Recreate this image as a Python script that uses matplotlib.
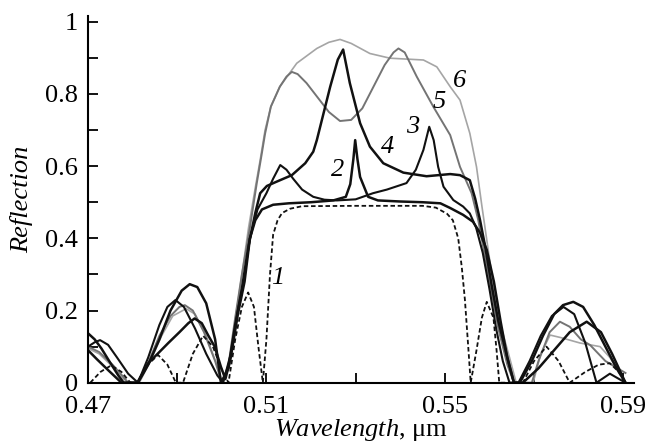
import matplotlib.pyplot as plt

plt.rcParams['font.family'] = ['Liberation Serif', 'DejaVu Serif']
plt.rcParams['mathtext.fontset'] = 'custom'
plt.rcParams['mathtext.rm'] = 'Liberation Serif'
plt.rcParams['mathtext.it'] = 'Liberation Serif:italic'

# curve 1 (dashed)
wl1 = [0.4705, 0.4728, 0.4752, 0.4775, 0.4795, 0.481, 0.483, 0.4857, 0.4878, 0.4897,
       0.4913, 0.4935, 0.4958, 0.498, 0.5, 0.5015, 0.503, 0.5045, 0.5059, 0.5072,
       0.5082, 0.5092, 0.51, 0.5108, 0.5115, 0.5125, 0.5135, 0.5153, 0.518, 0.53,
       0.545, 0.548, 0.5505, 0.5518, 0.553, 0.5538, 0.5545, 0.5553, 0.5558, 0.5571,
       0.5583, 0.5594, 0.5609, 0.5616, 0.5622, 0.5675, 0.57, 0.5728, 0.5755, 0.578,
       0.5815, 0.5845, 0.587, 0.589, 0.5905]
r1 = [0.0, 0.03, 0.048, 0.03, 0.0, 0.0, 0.045, 0.077, 0.05, 0.0,
      0.0, 0.08, 0.13, 0.1, 0.035, 0.0, 0.12, 0.21, 0.25, 0.21,
      0.1, 0.0, 0.12, 0.3, 0.41, 0.45, 0.47, 0.482, 0.489, 0.49,
      0.49, 0.485, 0.468, 0.45, 0.40, 0.32, 0.23, 0.09, 0.0, 0.09,
      0.18, 0.224, 0.18, 0.09, 0.0, 0.0, 0.06, 0.10, 0.06, 0.0,
      0.03, 0.05, 0.054, 0.03, 0.0]

# curve 2
wl2 = [0.47, 0.472, 0.4745, 0.4775, 0.481, 0.4825, 0.4835, 0.486, 0.488, 0.4905,
       0.4925, 0.4939, 0.4955, 0.497, 0.4984, 0.4998, 0.5008, 0.502, 0.5036, 0.5051,
       0.5063, 0.5075, 0.509, 0.5115, 0.515, 0.52, 0.525, 0.5278, 0.5288, 0.5295,
       0.5299, 0.5304, 0.531, 0.5328, 0.535, 0.54, 0.545, 0.549, 0.5512, 0.5541,
       0.5563, 0.5579, 0.5594, 0.561, 0.5625, 0.564, 0.5655, 0.5675, 0.571, 0.5745,
       0.578, 0.5818, 0.585, 0.5875, 0.5905]
r2 = [0.09, 0.065, 0.035, 0.0, 0.0, 0.03, 0.054, 0.085, 0.11, 0.14,
      0.165, 0.178, 0.165, 0.13, 0.10, 0.044, 0.01, 0.07, 0.19, 0.28,
      0.40, 0.45, 0.48, 0.493, 0.497, 0.5, 0.505, 0.515, 0.55, 0.62,
      0.672, 0.62, 0.57, 0.515, 0.505, 0.502, 0.5, 0.497, 0.484, 0.465,
      0.446, 0.415, 0.368, 0.28, 0.17, 0.07, 0.0, 0.0, 0.04, 0.09,
      0.14, 0.169, 0.14, 0.08, 0.0]

# curve 3
wl3 = [0.47, 0.4715, 0.4727, 0.4745, 0.4765, 0.479, 0.4812, 0.4835, 0.486, 0.4878,
       0.4896, 0.4915, 0.494, 0.4965, 0.499, 0.5003, 0.502, 0.5036, 0.505, 0.5063,
       0.508, 0.51, 0.5115, 0.5131, 0.5145, 0.516, 0.518, 0.5205, 0.523, 0.5258,
       0.53, 0.5339, 0.537, 0.5414, 0.5435, 0.5452, 0.5465, 0.5475, 0.5485, 0.5497,
       0.5519, 0.5541, 0.5556, 0.557, 0.5585, 0.56, 0.5615, 0.563, 0.5645, 0.5665,
       0.569, 0.5715, 0.574, 0.5766, 0.579, 0.5815, 0.584, 0.587, 0.5905]
r3 = [0.10, 0.112, 0.118, 0.105, 0.07, 0.025, 0.0, 0.07, 0.16, 0.21,
      0.229, 0.21, 0.15, 0.08, 0.02, 0.0, 0.08, 0.2, 0.29, 0.40,
      0.48, 0.525, 0.565, 0.603, 0.59, 0.565, 0.535, 0.515, 0.507, 0.505,
      0.508, 0.525, 0.535, 0.553, 0.59, 0.645, 0.709, 0.672, 0.598, 0.543,
      0.506, 0.488, 0.469, 0.43, 0.36, 0.26, 0.15, 0.06, 0.0, 0.0,
      0.06, 0.13, 0.185, 0.21, 0.19, 0.11, 0.0, 0.025, 0.0]

# curve 4
wl4 = [0.47, 0.4715, 0.473, 0.475, 0.4768, 0.478, 0.4812, 0.4835, 0.486, 0.4885,
       0.491, 0.4928, 0.4945, 0.4965, 0.4985, 0.4998, 0.5015, 0.503, 0.5045, 0.506,
       0.5075, 0.5086, 0.5101, 0.5123, 0.5157, 0.5187, 0.5205, 0.5213, 0.5228, 0.5243,
       0.526, 0.5272, 0.5287, 0.531, 0.5332, 0.5362, 0.5407, 0.5459, 0.5512, 0.5534,
       0.5556, 0.5568, 0.5579, 0.559, 0.5605, 0.562, 0.5638, 0.5655, 0.5668, 0.5695,
       0.572, 0.5745, 0.5765, 0.5788, 0.581, 0.5835, 0.586, 0.5885, 0.5905]
r4 = [0.137, 0.12, 0.095, 0.055, 0.02, 0.0, 0.0, 0.05, 0.12, 0.2,
      0.255, 0.273, 0.265, 0.22, 0.12, 0.0, 0.04, 0.16, 0.26, 0.38,
      0.47, 0.525, 0.545, 0.557, 0.575, 0.608, 0.64, 0.672, 0.746, 0.82,
      0.895, 0.923, 0.83, 0.719, 0.654, 0.608, 0.582, 0.572, 0.578, 0.575,
      0.561, 0.51, 0.45, 0.38, 0.27, 0.17, 0.08, 0.0, 0.0, 0.06,
      0.13, 0.19, 0.215, 0.224, 0.21, 0.16, 0.1, 0.04, 0.0]

# curve 5 (grey)
wl5 = [0.47, 0.4725, 0.4755, 0.478, 0.479, 0.4812, 0.4835, 0.486, 0.4885, 0.4905,
       0.4917, 0.4935, 0.496, 0.4985, 0.5, 0.5015, 0.503, 0.5045, 0.5063, 0.5078,
       0.5089, 0.5097, 0.511, 0.513, 0.5145, 0.5157, 0.517, 0.519, 0.5215, 0.524,
       0.5265, 0.529, 0.5315, 0.534, 0.5365, 0.5385, 0.5396, 0.541, 0.5437, 0.5474,
       0.5512, 0.5534, 0.556, 0.5575, 0.559, 0.5605, 0.562, 0.564, 0.5655, 0.5695,
       0.571, 0.5735, 0.5758, 0.578, 0.5805, 0.5826, 0.586, 0.5905]
r5 = [0.10, 0.085, 0.05, 0.015, 0.0, 0.0, 0.055, 0.13, 0.185, 0.21,
      0.215, 0.2, 0.14, 0.06, 0.0, 0.05, 0.18, 0.3, 0.43, 0.55,
      0.63, 0.69, 0.765, 0.82, 0.848, 0.861, 0.855, 0.83, 0.79, 0.75,
      0.725, 0.728, 0.76, 0.82, 0.88, 0.915, 0.926, 0.915, 0.848, 0.765,
      0.686, 0.598, 0.525, 0.45, 0.35, 0.25, 0.15, 0.05, 0.0, 0.0,
      0.06, 0.14, 0.169, 0.155, 0.12, 0.104, 0.06, 0.027]

# curve 6 (light grey)
wl6 = [0.47, 0.4725, 0.4755, 0.478, 0.4792, 0.4815, 0.484, 0.4865, 0.489, 0.492,
       0.494, 0.4965, 0.499, 0.5002, 0.5015, 0.503, 0.5045, 0.506, 0.5075, 0.5086,
       0.5097, 0.511, 0.513, 0.5168, 0.5213, 0.524, 0.5265, 0.529, 0.5332, 0.5377,
       0.5452, 0.5482, 0.5512, 0.5534, 0.5556, 0.5571, 0.5583, 0.5597, 0.561, 0.5625,
       0.5645, 0.566, 0.5698, 0.5715, 0.5736, 0.576, 0.5803, 0.5848, 0.587, 0.589, 0.5905]
r6 = [0.095, 0.08, 0.045, 0.01, 0.0, 0.0, 0.06, 0.13, 0.185, 0.205,
      0.19, 0.13, 0.045, 0.0, 0.05, 0.17, 0.3, 0.43, 0.54, 0.617,
      0.70, 0.765, 0.82, 0.885, 0.926, 0.943, 0.951, 0.94, 0.912, 0.899,
      0.894, 0.875, 0.82, 0.783, 0.691, 0.598, 0.49, 0.37, 0.26, 0.16,
      0.07, 0.0, 0.0, 0.08, 0.132, 0.125, 0.11, 0.10, 0.07, 0.03, 0.0]

fontSize = 19

fig = plt.figure(figsize=(6.5, 4.46), dpi=100)
ax = fig.add_axes([0.1354, 0.1419, 0.8406, 0.8215])

ax.plot(wl6, r6, color='#a5a5a5', linewidth=1.2)
ax.plot(wl5, r5, color='#747474', linewidth=1.4)
ax.plot(wl3, r3, color='#111111', linewidth=1.5)
ax.plot(wl4, r4, color='#111111', linewidth=1.8)
ax.plot(wl2, r2, color='#111111', linewidth=1.8)
ax.plot(wl1, r1, color='#111111', linewidth=1.3, dashes=(2.5, 1.5))

# curve numbers
labels = ['1', '2', '3', '4', '5', '6']
lab_x = [0.5126, 0.526, 0.5428, 0.5372, 0.5488, 0.5534]
lab_y = [0.29, 0.589, 0.709, 0.654, 0.778, 0.836]
for t, a, b in zip(labels, lab_x, lab_y):
    ax.text(a, b, t, fontsize=fontSize, style='italic', ha='center', va='center')

ax.set_xlim(0.47, 0.5925)
ax.set_ylim(0, 1.015)
ax.set_xticks([0.47, 0.49, 0.51, 0.53, 0.55, 0.57, 0.59])
ax.set_xticklabels(['0.47', '', '0.51', '', '0.55', '', '0.59'])
ax.set_yticks([0, 0.1, 0.2, 0.3, 0.4, 0.5, 0.6, 0.7, 0.8, 0.9, 1.0])
ax.set_yticklabels(['0', '', '0.2', '', '0.4', '', '0.6', '', '0.8', '', '1'])
ax.tick_params(direction='in', length=7, width=1.3, labelsize=fontSize)
ax.tick_params(axis='x', pad=9.5)
ax.tick_params(axis='y', pad=7)

ax.spines['top'].set_visible(False)
ax.spines['right'].set_visible(False)
ax.spines['left'].set_linewidth(1.5)
ax.spines['bottom'].set_linewidth(1.5)

ax.set_ylabel('Reflection', fontsize=fontSize, style='italic', labelpad=9)
ax.set_xlabel(r'$\it{Wavelength}$, μm', fontsize=fontSize, labelpad=-1)

fig.savefig('out.png', dpi=100)
